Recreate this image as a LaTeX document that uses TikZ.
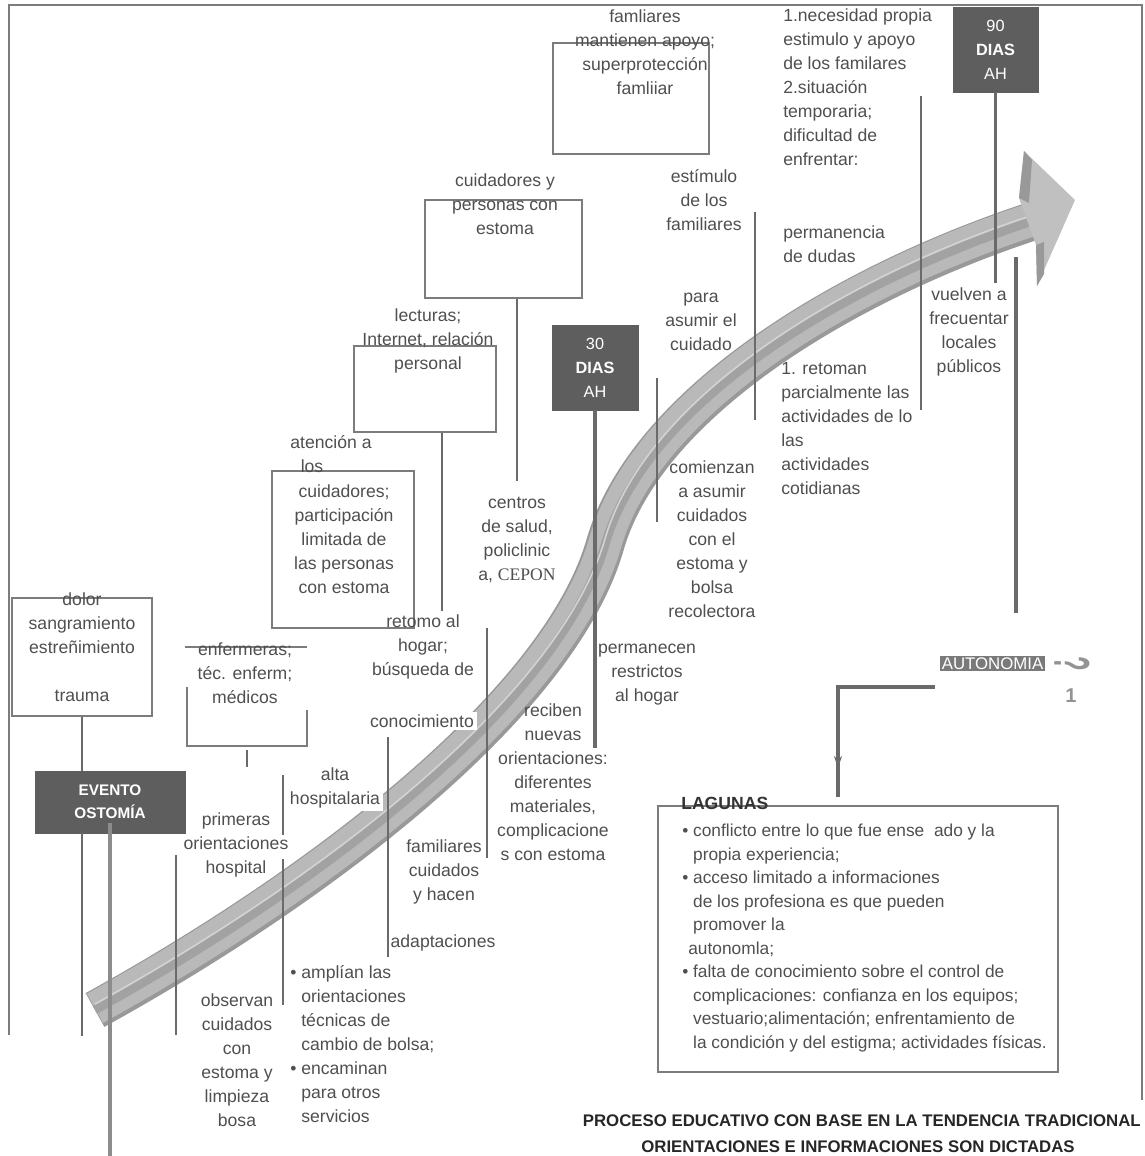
\documentclass[tikz,border=0pt]{standalone}
\usepackage{fontspec}
\setmainfont{Liberation Sans}
\newfontfamily\cepfont{Liberation Serif}
\usetikzlibrary{arrows.meta,positioning,fit,decorations.markings}

\definecolor{txtgray}{HTML}{4F4F4F}
\definecolor{linegray}{HTML}{6A6A6A}
\definecolor{framegray}{HTML}{7C7C7C}
\definecolor{boxgray}{HTML}{5E5E5E}
\definecolor{bandshade}{HTML}{999999}
\definecolor{bandbody}{HTML}{B9B9B9}
\definecolor{bandgroove}{HTML}{A2A2A2}
\definecolor{bandlight}{HTML}{D3D3D3}
\definecolor{autogray}{HTML}{7A7A7A}

\tikzset{
  txt/.style={text=txtgray, font=\fontsize{13.2}{18}\selectfont, align=center, inner sep=0pt},
  txtl/.style={txt, align=left},
  outline/.style={draw=framegray, line width=1.1pt, inner sep=0pt},
  darkbox/.style={fill=boxgray, draw=boxgray, text=white, align=center,
    font=\fontsize{12.2}{18}\selectfont, inner sep=0pt},
  thinline/.style={draw=linegray, line width=1.1pt},
  thickline/.style={draw=linegray, line width=2.4pt},
  cover/.style={fill=white, inner sep=2pt},
}

\def\bandpath{(95,1010) .. controls (330,880) and (560,700) .. (605,545)
  .. controls (645,405) and (840,285) .. (1030,222)}

\begin{document}
\begin{tikzpicture}[x=0.75pt, y=-0.75pt]
    \useasboundingbox (0,0) rectangle (1145,1156);

    % Outer frame
    \draw[framegray, line width=1.1pt] (9,1035) -- (9,5) -- (1142,5) -- (1142,1100);

    % Curved arrow of the process
    \draw[bandshade, line width=29pt] \bandpath;
    \draw[bandbody, line width=25pt, yshift=1.3pt] \bandpath;
    \draw[bandgroove, line width=6.5pt] \bandpath;
    \draw[bandlight, line width=1.2pt, yshift=4.5pt] \bandpath;
    \fill[bandbody!90] (1019,198) -- (1024,151) -- (1075,200) -- (1037,286) -- (1036,245) -- cycle;
    \fill[bandshade] (1019,198) -- (1024,151) -- (1032,160) -- (1029,203) -- cycle;
    \fill[bandshade] (1036,245) -- (1044,242) -- (1044,274) -- (1037,286) -- cycle;

    % Boxes
    \node[outline, fit={(12,598) (152,716)}] (dolorbox) {};
    \node[outline, fit={(272,471) (414,628)}] (atenbox) {};
    \node[outline, fit={(354,346) (496,432)}] (lectbox) {};
    \node[outline, fit={(425,200) (582,298)}] (cuidbox) {};
    \node[outline, fit={(553,43) (709,154)}] (famibox) {};
    \node[outline, fit={(658,806) (1058,1072)}] (lagunabox) {};
    \draw[outline] (185,647) -- (307,647);
    \draw[outline] (187,687) -- (187,746) -- (307,746) -- (307,710);

    % Dark boxes
    \node[darkbox, minimum width=112.5pt, minimum height=46.5pt, font=\fontsize{11.5}{17.5}\selectfont]
        (evento) at (110,802) {\textbf{EVENTO}\\\textbf{OSTOMÍA}};
    \node[darkbox, minimum width=64.5pt, minimum height=63.75pt] (dias30) at (595,367.5)
        {30\\\textbf{DIAS}\\AH};
    \node[darkbox, minimum width=63.75pt, minimum height=63.75pt] (dias90) at (995.5,49.5)
        {90\\\textbf{DIAS}\\AH};

    % Connectors from boxes
    \draw[thinline] (dolorbox.south) -- (dolorbox.south |- evento.north);
    \draw[thinline] (dolorbox.south |- evento.south) -- ++(0,203);
    \draw[thickline, draw=gray!90] (110,823) -- (110,1156);
    \draw[thinline] (lectbox.south -| 442,0) -- ++(0,178);
    \draw[thinline] (cuidbox.south -| 517,0) -- ++(0,182);
    \draw[thickline] (dias30.south) -- ++(0,338);
    \draw[thickline] (dias90.south) -- ++(0,191);

    % Free guide lines
    \draw[thinline] (176,855) -- (176,1035);
    \draw[thinline] (247,750) -- (247,767);
    \draw[thinline] (283,775) -- (283,835);
    \draw[thinline] (283,859) -- (283,1005);
    \draw[thinline] (388,737) -- (388,957);
    \draw[thinline] (487,628) -- (487,858);
    \draw[thinline] (657,378) -- (657,522);
    \draw[thinline] (755,212) -- (755,420);
    \draw[thinline] (921,96) -- (921,410);
    \draw[thickline] (1016,257) -- (1016,613);

    % Texts along the process
    \node[txt] (dolortxt) at (82,647) {dolor\\sangramiento\\estreñimiento\\\mbox{}\\trauma};
    \node[txt] (enftxt) at (245,673) {enfermeras;\\téc. enferm;\\médicos};
    \node[txt] (atenA) at (331,442) {atención a};
    \node[txt] (atenB) at (312,466) {los};
    \node[txt] (atentxt) at (344,539) {cuidadores;\\participación\\limitada de\\las personas\\con estoma};
    \node[txt] (lecttxt) at (428,341) {lecturas;\\Internet, relación\\personal};
    \node[txt] (cuidtxt) at (505,204) {cuidadores y\\personas con\\estoma};
    \node[txt] (famitxt) at (645,52) {famliares\\mantienen apoyo;\\superprotección\\famliiar};
    \node[txtl, anchor=west] (necetxt) at (783,87) {1.necesidad propia\\estimulo y apoyo\\de los familares\\2.situación\\temporaria;\\dificultad de\\enfrentar:};
    \node[txt] (estitxt) at (704,200) {estímulo\\de los\\familiares};
    \node[txtl, anchor=west] (permtxt) at (783,244) {permanencia\\de dudas};
    \node[txt] (paratxt) at (701,322) {para\\asumir el\\cuidado};
    \node[txtl, anchor=west] (retotxt) at (781,429) {1. retoman\\parcialmente las\\actividades de lo\\las\\actividades\\cotidianas};
    \node[txt] (vuelvtxt) at (969,332) {vuelven a\\frecuentar\\locales\\públicos};
    \node[txt] (comitxt) at (712,539) {comienzan\\a asumir\\cuidados\\con el\\estoma y\\bolsa\\recolectora};
    \node[txt] (centtxt) at (517,540) {centros\\de salud,\\policlinic\\a, {\cepfont CEPON}};
    \node[txt] (hogartxt) at (423,647) {retomo al\\hogar;\\búsqueda de};
    \node[txt, cover] (conotxt) at (422,721) {conocimiento};
    \node[txt, cover] (altatxt) at (335,788) {alta\\hospitalaria};
    \node[txt] (primtxt) at (236,845) {primeras\\orientaciones\\hospital};
    \node[txt] (cuidatxt) at (444,872) {familiares\\cuidados\\y hacen};
    \node[txt] (adaptxt) at (443,943) {adaptaciones};
    \node[txt] (recitxt) at (553,782) {reciben\\nuevas\\orientaciones:\\diferentes\\materiales,\\complicacione\\s con estoma};
    \node[txt] (restrtxt) at (647,675) {permanecen\\restrictos\\al hogar};
    \node[txt] (obsetxt) at (237,1060) {observan\\cuidados\\con\\estoma y\\limpieza\\bosa};
    \node[txtl, anchor=west] (ampltxt) at (290,1044) {\textbullet\ amplían las\\
        \hphantom{\textbullet\ }orientaciones\\\hphantom{\textbullet\ }técnicas de\\
        \hphantom{\textbullet\ }cambio de bolsa;\\\textbullet\ encaminan\\
        \hphantom{\textbullet\ }para otros\\\hphantom{\textbullet\ }servicios};

    % Autonomy and gaps
    \node[fill=autogray, text=white, inner sep=1pt, font=\fontsize{12.6}{14}\selectfont]
        (autonomia) at (992.5,663.5) {AUTONOMIA};
    \node[text=gray!85, rotate=-90, font=\bfseries\fontsize{18}{18}\selectfont]
        (quest) at (1072,664) {\scalebox{1}[2.1]{?}};
    \node[text=gray!85, font=\bfseries\fontsize{15}{15}\selectfont] (uno) at (1071,696) {1};
    \coordinate (lstart) at (935,687);
    \coordinate (lend) at (838,797);
    \draw[thickline, postaction={decorate},
        decoration={markings, mark=at position 0.86 with {\arrow{Stealth[length=9pt,width=6pt]}}}]
        (lstart) -| (lend);

    \node[anchor=west, text=black!80, font=\bfseries\fontsize{13.2}{18}\selectfont, inner sep=0pt]
        (lagunas) at (681,803) {LAGUNAS};
    \node[txtl, anchor=west, font=\fontsize{13}{17.6}\selectfont] (lagutxt) at (682,938)
        {\textbullet\ conflicto entre lo que fue ense\ \ ado y la\\
        \hphantom{\textbullet\ }propia experiencia;\\
        \textbullet\ acceso limitado a informaciones\\
        \hphantom{\textbullet\ }de los profesiona es que pueden\\
        \hphantom{\textbullet\ }promover la\\
        \hphantom{\textbullet}autonomla;\\
        \textbullet\ falta de conocimiento sobre el control de\\
        \hphantom{\textbullet\ }complicaciones: confianza en los equipos;\\
        \hphantom{\textbullet\ }vestuario;alimentación; enfrentamiento de\\
        \hphantom{\textbullet\ }la condición y del estigma; actividades físicas.};

    % Title
    \node[anchor=east, text=black!85, font=\bfseries\fontsize{12.6}{16}\selectfont, inner sep=0pt]
        (titleA) at (1141,1121) {PROCESO EDUCATIVO CON BASE EN LA TENDENCIA TRADICIONAL};
    \node[text=black!85, font=\bfseries\fontsize{12.6}{16}\selectfont, inner sep=0pt]
        (titleB) at (858,1147) {ORIENTACIONES E INFORMACIONES SON DICTADAS};
\end{tikzpicture}
\end{document}
